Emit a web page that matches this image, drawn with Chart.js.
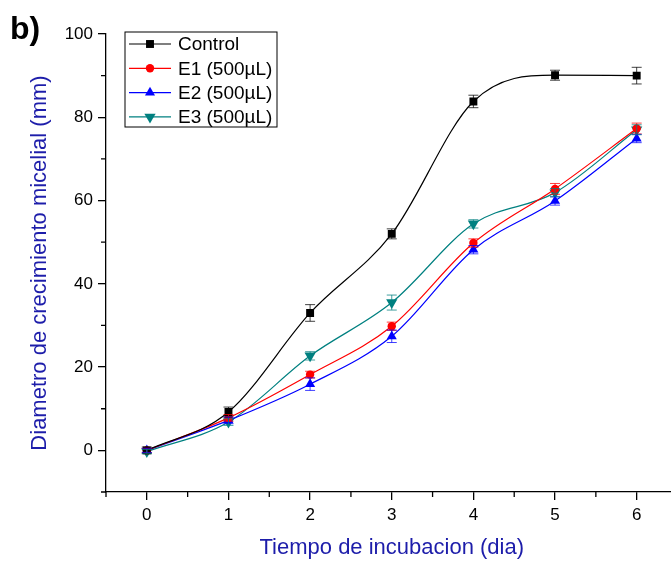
<!DOCTYPE html>
<html>
<head>
<meta charset="utf-8">
<script src="https://cdn.jsdelivr.net/npm/chart.js@4/dist/chart.umd.min.js"></script>
<style>
  html, body { margin: 0; padding: 0; background: #fff; overflow: hidden; }
  #wrap { position: relative; width: 671px; height: 565px; overflow: hidden; }
  #tag { position: absolute; left: 10px; top: 10px; font: bold 32px "Liberation Sans", Arial, sans-serif; color: #000; }
</style>
</head>
<body>
<div id="wrap">
  <canvas id="chartdiv" width="684" height="565"></canvas>
  <div id="tag">b)</div>
</div>
<script>
var days = [0, 1, 2, 3, 4, 5, 6];
var yTicks = [0, 20, 40, 60, 80, 100];
var labels = ["Control", "E1 (500\u00b5L)", "E2 (500\u00b5L)", "E3 (500\u00b5L)"];
var control = [0, 9.2, 33.0, 52.0, 83.8, 90.1, 90.0];
var e1 = [0, 7.8, 18.2, 29.8, 49.8, 62.8, 77.3];
var e2 = [0, 7.2, 15.9, 27.4, 48.2, 59.9, 74.9];
var e3 = [-0.3, 6.8, 22.7, 35.5, 54.4, 61.9, 77.0];
var controlErr = [0.8, 1.2, 2.0, 1.2, 1.5, 1.2, 2.0];
var e1Err = [0.5, 0.8, 0.8, 1.0, 1.0, 1.3, 1.3];
var e2Err = [0.5, 0.8, 1.5, 1.5, 1.0, 1.0, 1.0];
var e3Err = [0.5, 0.8, 1.0, 1.8, 1.0, 1.0, 1.2];

var series = [control, e1, e2, e3];
var errors = [controlErr, e1Err, e2Err, e3Err];
var colors = ["#000000", "#ff0000", "#0000ff", "#008080"];
var styles = ["rect", "circle", "triangle", "triangle"];
var radii = [5.6, 4.2, 5.8, 6.5];
var rotations = [0, 0, 0, 180];

var fontName = '"Liberation Sans", Arial, sans-serif';
var titleBlue = "#1d1daa";

function toPoints(vals) {
    var pts = [];
    for (var i = 0; i < days.length; i++) {
        pts.push({x: days[i], y: vals[i]});
    }
    return pts;
}

var donnee = [];
for (let i = 0; i < series.length; i++) {
    donnee.push({
        label: labels[i],
        data: toPoints(series[i]),
        borderColor: colors[i],
        backgroundColor: colors[i],
        pointBackgroundColor: colors[i],
        pointBorderColor: colors[i],
        pointStyle: styles[i],
        pointRadius: radii[i],
        pointRotation: rotations[i],
        pointBorderWidth: 0,
        borderWidth: 1.2,
        cubicInterpolationMode: 'monotone',
        fill: false
    });
}

// error bars + minor ticks + legend box inside the plot
var extras = {
    id: 'extras',
    afterDatasetsDraw: function(chart) {
        var ctx = chart.ctx;
        var xs = chart.scales.x, ys = chart.scales.y;
        ctx.save();
        for (var d = 0; d < series.length; d++) {
            ctx.strokeStyle = colors[d];
            ctx.globalAlpha = 0.75;
            ctx.lineWidth = 1;
            for (var i = 0; i < days.length; i++) {
                var px = xs.getPixelForValue(days[i]);
                var top = ys.getPixelForValue(series[d][i] + errors[d][i]);
                var bot = ys.getPixelForValue(series[d][i] - errors[d][i]);
                ctx.beginPath();
                ctx.moveTo(px, top); ctx.lineTo(px, bot);
                ctx.moveTo(px - 5, top); ctx.lineTo(px + 5, top);
                ctx.moveTo(px - 5, bot); ctx.lineTo(px + 5, bot);
                ctx.stroke();
            }
        }
        ctx.restore();
    },
    afterDraw: function(chart) {
        var ctx = chart.ctx;
        var xs = chart.scales.x, ys = chart.scales.y;
        var area = chart.chartArea;
        ctx.save();
        ctx.strokeStyle = "#000";
        ctx.lineWidth = 1.3;
        ctx.beginPath();
        for (var i = 0; i <= days.length; i++) {
            var mx = xs.getPixelForValue(days[0] + i - 0.5);
            ctx.moveTo(mx, area.bottom); ctx.lineTo(mx, area.bottom + 5);
        }
        for (var j = -10; j < 100; j += 20) {
            var my = ys.getPixelForValue(j);
            ctx.moveTo(area.left, my); ctx.lineTo(area.left - 5, my);
        }
        // little overhang where the two axes cross
        ctx.moveTo(area.left - 3, area.bottom); ctx.lineTo(area.left, area.bottom);
        ctx.moveTo(area.left, area.bottom); ctx.lineTo(area.left, area.bottom + 5);
        ctx.stroke();

        // legend
        var lx = area.left + 19, ly = area.top - 2;
        ctx.lineWidth = 1;
        ctx.strokeRect(lx, ly, 152, 95);
        ctx.font = "19px " + fontName;
        ctx.textBaseline = "middle";
        ctx.textAlign = "left";
        for (var k = 0; k < labels.length; k++) {
            var cy = ly + 12 + k * 24.3;
            ctx.strokeStyle = colors[k];
            ctx.fillStyle = colors[k];
            ctx.lineWidth = 1.2;
            ctx.beginPath();
            ctx.moveTo(lx + 4, cy); ctx.lineTo(lx + 46, cy);
            ctx.stroke();
            Chart.helpers.drawPoint(ctx, {pointStyle: styles[k], radius: radii[k], rotation: rotations[k], borderWidth: 0}, lx + 25, cy);
            ctx.fillStyle = "#000";
            ctx.fillText(labels[k], lx + 53, cy + 1);
        }
        ctx.restore();
    }
};

var ctxgen = document.getElementById('chartdiv').getContext('2d');
var chartgen = new Chart(ctxgen, {
    type: 'line',
    data: { datasets: donnee },
    plugins: [extras],
    options: {
        responsive: false,
        animation: false,
        layout: { padding: { top: 34, left: 0, right: 0, bottom: 0 } },
        plugins: {
            legend: { display: false },
            tooltip: { enabled: false }
        },
        scales: {
            x: {
                type: 'linear',
                min: -0.5,
                max: 6.5,
                afterBuildTicks: function(scale) {
                    scale.ticks = days.map(function(v) { return {value: v}; });
                },
                afterFit: function(scale) { scale.height = 73; },
                grid: { display: true, drawOnChartArea: false, drawTicks: true, tickLength: 8, color: '#000', lineWidth: 1.3 },
                border: { display: true, color: '#000', width: 1.3 },
                ticks: { color: '#000', padding: 5, font: { family: fontName, size: 17 } },
                title: { display: true, text: 'Tiempo de incubacion (dia)', color: titleBlue, padding: { top: 2, bottom: 4 }, font: { family: fontName, size: 22 } }
            },
            y: {
                min: -10,
                max: 100,
                afterBuildTicks: function(scale) {
                    scale.ticks = yTicks.map(function(v) { return {value: v}; });
                },
                afterFit: function(scale) { scale.width = 106; },
                grid: { display: true, drawOnChartArea: false, drawTicks: true, tickLength: 8, color: '#000', lineWidth: 1.3 },
                border: { display: true, color: '#000', width: 1.3 },
                ticks: { color: '#000', padding: 5, font: { family: fontName, size: 17 } },
                title: { display: true, text: 'Diametro de crecimiento micelial (mm)', color: titleBlue, padding: { top: 27, bottom: 0 }, font: { family: fontName, size: 22 } }
            }
        }
    }
});
</script>
</body>
</html>
